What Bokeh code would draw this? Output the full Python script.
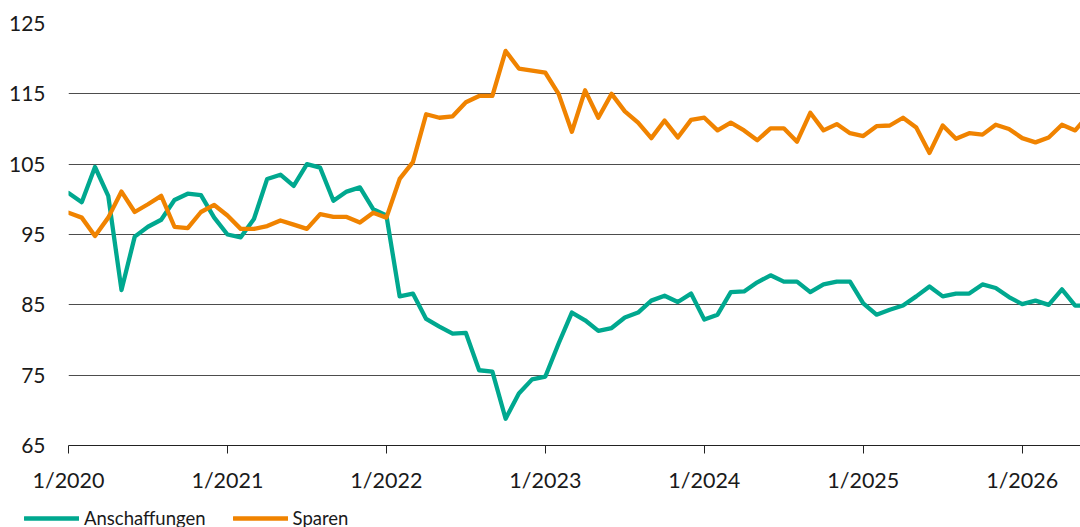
from bokeh.plotting import figure
from bokeh.layouts import column
from bokeh.models import Range1d, FixedTicker, Legend, LegendItem
from bokeh.embed import file_html
from bokeh.resources import INLINE

# Monthly values, Jan 2020 .. Jun 2026
anschaffungen = [
    100.9, 99.6, 104.6, 100.5, 87.1, 94.7, 96.1, 97.1, 99.9, 100.8, 100.6, 97.4,
    95.0, 94.6, 97.2, 102.9, 103.5, 101.9, 105.0, 104.5, 99.8, 101.1, 101.7, 98.6,
    97.7, 86.2, 86.6, 83.0, 81.9, 80.9, 81.0, 75.7, 75.5, 68.8, 72.4, 74.4,
    74.8, 79.5, 83.9, 82.8, 81.3, 81.7, 83.2, 83.9, 85.6, 86.3, 85.4, 86.6,
    82.9, 83.6, 86.8, 86.9, 88.2, 89.2, 88.3, 88.3, 86.8, 87.9, 88.3, 88.3,
    85.2, 83.6, 84.3, 84.9, 86.2, 87.6, 86.2, 86.6, 86.6, 87.9, 87.4, 86.1,
    85.1, 85.6, 85.0, 87.2, 84.9, 84.9,
]
sparen = [
    98.1, 97.4, 94.8, 97.4, 101.1, 98.2, 99.3, 100.5, 96.1, 95.9, 98.2, 99.2,
    97.7, 95.8, 95.8, 96.2, 97.0, 96.4, 95.8, 97.9, 97.5, 97.5, 96.7, 98.1,
    97.4, 102.9, 105.3, 112.1, 111.6, 111.8, 113.8, 114.7, 114.7, 121.1, 118.6, 118.3,
    118.0, 115.0, 109.6, 115.5, 111.6, 115.0, 112.5, 110.9, 108.7, 111.2, 108.8, 111.3,
    111.6, 109.8, 110.9, 109.8, 108.4, 110.1, 110.1, 108.2, 112.3, 109.8, 110.7, 109.4,
    109.0, 110.4, 110.5, 111.6, 110.2, 106.6, 110.5, 108.6, 109.4, 109.2, 110.6, 110.0,
    108.7, 108.1, 108.8, 110.6, 109.8, 112.0,
]
months = list(range(len(anschaffungen)))
years = [2020, 2021, 2022, 2023, 2024, 2025, 2026]
tick_labels = [f"1/{y}" for y in years]
y_ticks = [65, 75, 85, 95, 105, 115, 125]
series_names = ["Anschaffungen", "Sparen"]

FONT = "Lato"
TEAL = "#00a88f"
ORANGE = "#f08300"
LW = 4.3

p = figure(width=1080, height=500, output_backend="svg", toolbar_location=None,
           x_range=Range1d(0, 76.4), y_range=Range1d(65, 125),
           min_border_left=68, min_border_right=0, min_border_top=23,
           min_border_bottom=55)
p.outline_line_color = None
p.background_fill_color = "white"
p.border_fill_color = "white"

p.line(months, anschaffungen, line_color=TEAL, line_width=LW,
       line_join="round", line_cap="round")
p.line(months, sparen, line_color=ORANGE, line_width=LW,
       line_join="round", line_cap="round")

xt = [(y - 2020) * 12 for y in years]
p.xaxis.ticker = FixedTicker(ticks=xt)
p.xaxis.major_label_overrides = {t: l for t, l in zip(xt, tick_labels)}
p.xaxis.minor_tick_line_color = None
p.xaxis.major_tick_in = 0
p.xaxis.major_tick_out = 8
p.xaxis.major_tick_line_color = "#222222"
p.xaxis.axis_line_color = "#222222"
p.xaxis.major_label_standoff = 13
p.xaxis.major_label_text_font = FONT
p.xaxis.major_label_text_font_size = "21.5px"
p.xaxis.major_label_text_color = "#1a1a1a"
p.xgrid.grid_line_color = None

p.yaxis.ticker = FixedTicker(ticks=y_ticks)
p.yaxis.axis_line_color = None
p.yaxis.major_tick_line_color = None
p.yaxis.minor_tick_line_color = None
p.yaxis.major_tick_in = 0
p.yaxis.major_tick_out = 0
p.yaxis.major_label_standoff = 23
p.yaxis.major_label_text_font = FONT
p.yaxis.major_label_text_font_size = "21px"
p.yaxis.major_label_text_color = "#1a1a1a"
p.ygrid.ticker = FixedTicker(ticks=y_ticks)
p.ygrid.grid_line_color = "#4d4d4d"
p.ygrid.grid_line_width = 1

# Legend strip below the chart
lg = figure(width=1080, height=27, output_backend="svg", toolbar_location=None,
            x_axis_type=None, y_axis_type=None,
            x_range=Range1d(0, 1), y_range=Range1d(0, 1),
            min_border_left=0, min_border_right=0, min_border_top=0,
            min_border_bottom=0)
lg.frame_align = False
lg.outline_line_color = None
lg.grid.grid_line_color = None
lg.background_fill_color = "white"
lg.border_fill_color = "white"
d1 = lg.line([0, 1], [-5, -5], line_color=TEAL, line_width=LW, line_cap="round")
d2 = lg.line([0, 1], [-5, -5], line_color=ORANGE, line_width=LW, line_cap="round")
legend = Legend(items=[LegendItem(label=series_names[0], renderers=[d1]),
                       LegendItem(label=series_names[1], renderers=[d2])],
                location=(24, -2), orientation="horizontal",
                border_line_color=None, background_fill_alpha=0,
                padding=0, margin=0, spacing=27, label_standoff=5,
                glyph_width=55, glyph_height=20, label_height=20,
                label_text_font=FONT, label_text_font_size="18.5px",
                label_text_color="#1a1a1a")
lg.add_layout(legend)

layout = column(p, lg, spacing=0)
open("out.html", "w").write(file_html(layout, INLINE))
